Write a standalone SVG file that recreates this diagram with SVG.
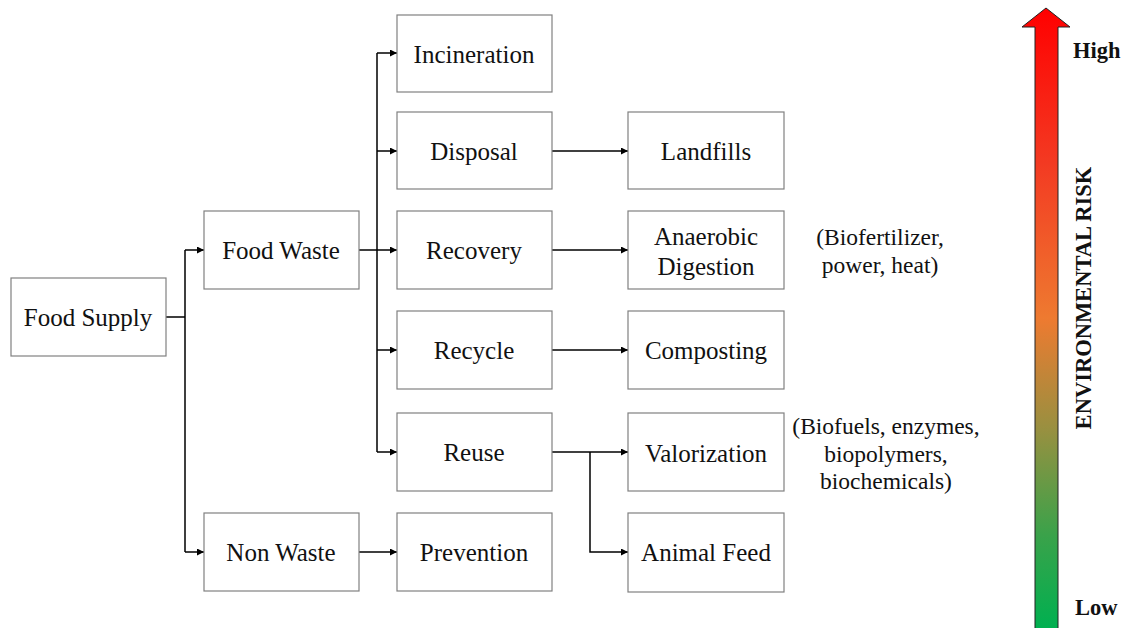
<svg xmlns="http://www.w3.org/2000/svg" width="1125" height="628" viewBox="0 0 1125 628">
<style>
.box{fill:#fff;stroke:#808080;stroke-width:1.2}
.t{font-family:"Liberation Serif","Times New Roman",serif;font-size:25px;fill:#111;text-anchor:middle;dominant-baseline:central}
.n{font-family:"Liberation Serif","Times New Roman",serif;font-size:23.5px;fill:#111;text-anchor:middle}
.b{font-family:"Liberation Serif","Times New Roman",serif;font-size:22.5px;font-weight:bold;fill:#111}
.c{fill:none;stroke:#000;stroke-width:1.5}
</style>
<defs>
<marker id="ah" viewBox="0 0 10 10" refX="10" refY="5" markerWidth="7" markerHeight="7" markerUnits="userSpaceOnUse" orient="auto">
<path d="M0,0 L10,5 L0,10 z" fill="#000"/>
</marker>
<linearGradient id="risk" x1="0" y1="0" x2="0" y2="1">
<stop offset="0" stop-color="#ff0000"/>
<stop offset="0.25" stop-color="#f33a22"/>
<stop offset="0.5" stop-color="#ee7a30"/>
<stop offset="0.68" stop-color="#989040"/>
<stop offset="0.85" stop-color="#3aa24a"/>
<stop offset="1" stop-color="#00b050"/>
</linearGradient>
</defs>
<g id="connectors">
<path class="c" d="M166,317 H185 M185,250 V552"/>
<path class="c" d="M185,250 H204" marker-end="url(#ah)"/>
<path class="c" d="M185,552 H204" marker-end="url(#ah)"/>
<path class="c" d="M359,250 H377 M377,53 V452"/>
<path class="c" d="M377,53 H397" marker-end="url(#ah)"/>
<path class="c" d="M377,151 H397" marker-end="url(#ah)"/>
<path class="c" d="M377,250 H397" marker-end="url(#ah)"/>
<path class="c" d="M377,350 H397" marker-end="url(#ah)"/>
<path class="c" d="M377,452 H397" marker-end="url(#ah)"/>
<path class="c" d="M552,151 H628" marker-end="url(#ah)"/>
<path class="c" d="M552,250 H628" marker-end="url(#ah)"/>
<path class="c" d="M552,350 H628" marker-end="url(#ah)"/>
<path class="c" d="M552,452 H628" marker-end="url(#ah)"/>
<path class="c" d="M590,452 V552 H628" marker-end="url(#ah)"/>
<path class="c" d="M359,552 H397" marker-end="url(#ah)"/>
</g>
<g id="food-supply"><rect class="box" x="11" y="278" width="155" height="78"/><text class="t" x="88" y="317">Food Supply</text></g>
<g id="food-waste"><rect class="box" x="204" y="211" width="155" height="78"/><text class="t" x="281" y="250">Food Waste</text></g>
<g id="non-waste"><rect class="box" x="204" y="513" width="155" height="78"/><text class="t" x="281" y="552">Non Waste</text></g>
<g id="incineration"><rect class="box" x="397" y="15" width="155" height="77"/><text class="t" x="474" y="54">Incineration</text></g>
<g id="disposal"><rect class="box" x="397" y="112" width="155" height="77"/><text class="t" x="474" y="151">Disposal</text></g>
<g id="recovery"><rect class="box" x="397" y="211" width="155" height="78"/><text class="t" x="474" y="250">Recovery</text></g>
<g id="recycle"><rect class="box" x="397" y="311" width="155" height="78"/><text class="t" x="474" y="350">Recycle</text></g>
<g id="reuse"><rect class="box" x="397" y="413" width="155" height="78"/><text class="t" x="474" y="452">Reuse</text></g>
<g id="prevention"><rect class="box" x="397" y="513" width="155" height="78"/><text class="t" x="474" y="552">Prevention</text></g>
<g id="landfills"><rect class="box" x="628" y="112" width="156" height="77"/><text class="t" x="706" y="151">Landfills</text></g>
<g id="anaerobic"><rect class="box" x="628" y="211" width="156" height="78"/><text class="t" x="706" y="236">Anaerobic</text><text class="t" x="706" y="266">Digestion</text></g>
<g id="composting"><rect class="box" x="628" y="311" width="156" height="78"/><text class="t" x="706" y="350">Composting</text></g>
<g id="valorization"><rect class="box" x="628" y="413" width="156" height="78"/><text class="t" x="706" y="453">Valorization</text></g>
<g id="animal-feed"><rect class="box" x="628" y="513" width="156" height="79"/><text class="t" x="706" y="552">Animal Feed</text></g>
<g id="notes">
<text class="n" x="880" y="245">(Biofertilizer,</text>
<text class="n" x="880" y="273">power, heat)</text>
<text class="n" x="886" y="434">(Biofuels, enzymes,</text>
<text class="n" x="886" y="462">biopolymers,</text>
<text class="n" x="886" y="489">biochemicals)</text>
</g>
<g id="risk-arrow">
<path d="M1035,628 V27 H1022 L1046,8 L1070,27 H1058 V628" fill="url(#risk)" stroke="#222" stroke-width="1"/>
<text class="b" x="1073" y="58">High</text>
<text class="b" x="1075" y="615">Low</text>
<text class="b" transform="translate(1091,298) rotate(-90)" text-anchor="middle">ENVIRONMENTAL RISK</text>
</g>
</svg>
